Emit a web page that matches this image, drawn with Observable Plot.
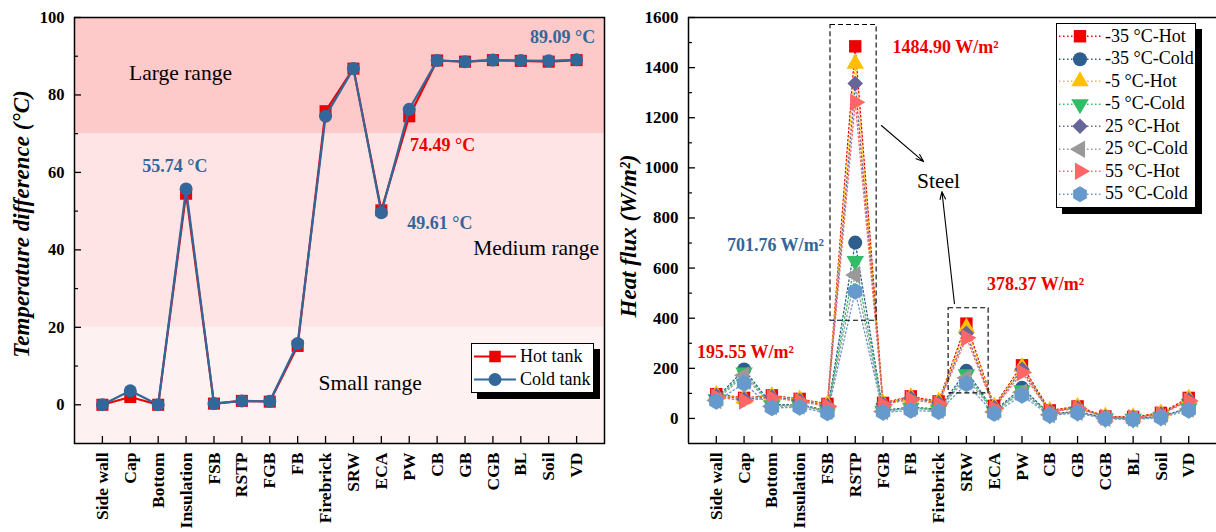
<!DOCTYPE html>
<html><head><meta charset="utf-8">
<script src="https://cdn.jsdelivr.net/npm/d3@7"></script>
<script src="https://cdn.jsdelivr.net/npm/@observablehq/plot@0.6"></script>
<style>
body{margin:0;background:#fff;font-family:"Liberation Serif",serif;}
#wrap{position:relative;width:1216px;height:532px;overflow:hidden;background:#fff;}
#left{position:absolute;left:0;top:0;}
#right{position:absolute;left:608px;top:0;}
.ytitle{position:absolute;font-family:"Liberation Serif",serif;font-style:italic;font-weight:bold;font-size:23px;transform:translate(-50%,-50%) rotate(-90deg);white-space:nowrap;color:#000;}
.legend{position:absolute;background:#fff;border:1px solid #000;box-shadow:6px 6px 0 #000;font-family:"Liberation Serif",serif;font-size:18px;color:#000;}
.row{display:flex;align-items:center;white-space:nowrap;}
.row svg{display:block;}
</style></head>
<body><div id="wrap">
<div id="left"></div><div id="right"></div>
<div class="ytitle" style="left:22px;top:224px;">Temperature difference (°C)</div>
<div class="ytitle" style="left:629px;top:236px;">Heat flux (W/m²)</div>
<div class="legend" id="legL" style="left:471px;top:343px;width:121px;height:47px;padding-top:1px;"></div>
<div class="legend" id="legR" style="left:1056px;top:23px;width:138px;height:182px;padding-top:1px;"></div>
</div>
<script>
// ---------- data ----------
const cats = ["Side wall","Cap","Bottom","Insulation","FSB","RSTP","FGB","FB","Firebrick","SRW","ECA","PW","CB","GB","CGB","BL","Soil","VD"];

// Left: temperature difference (°C)
const hotTank  = [0, 2.0, 0, 54.5, 0.3, 1.0, 0.8, 15.2, 75.8, 86.8, 50.2, 74.49, 88.9, 88.6, 89.0, 88.8, 88.6, 89.0];
const coldTank = [0, 3.6, 0, 55.74, 0.3, 1.0, 0.9, 15.8, 74.5, 86.8, 49.61, 76.3, 88.9, 88.6, 89.0, 88.9, 88.8, 89.09];

// range bands (°C)
const rangeNames = ["Small range","Medium range","Large range"];
const rangeLow  = [-10, 20, 70];
const rangeHigh = [20, 70, 100];

// Right: heat flux (W/m2)
const seriesNames = ["-35 °C-Hot","-35 °C-Cold","-5 °C-Hot","-5 °C-Cold","25 °C-Hot","25 °C-Cold","55 °C-Hot","55 °C-Cold"];
const m35Hot  = [97, 82, 92, 78, 58, 1484.9, 62, 88, 68, 378.37, 50, 212, 32, 48, 8, 6, 22, 82];
const m35Cold = [80, 195.55, 55, 55, 32, 701.76, 32, 45, 38, 190, 30, 122, 18, 28, 2, 0, 8, 42];
const m5Hot   = [94, 80, 89, 75, 55, 1416, 60, 85, 66, 362, 47, 205, 30, 46, 7, 5, 20, 79];
const m5Cold  = [76, 183, 52, 52, 30, 628, 30, 42, 35, 176, 28, 112, 16, 26, 1, -1, 7, 40];
const p25Hot  = [91, 77, 86, 72, 52, 1337, 58, 81, 63, 340, 44, 196, 28, 43, 6, 4, 18, 75];
const p25Cold = [72, 172, 48, 50, 28, 572, 28, 40, 33, 162, 26, 105, 15, 25, 0, -2, 6, 38];
const p55Hot  = [86, 70, 82, 68, 48, 1262, 55, 76, 58, 322, 40, 183, 26, 40, 5, 3, 16, 70];
const p55Cold = [68, 140, 42, 44, 22, 507, 24, 32, 27, 138, 20, 92, 12, 22, -2, -4, 3, 32];

// annotations
const leftRangeText = ["Large range","Medium range","Small range"];
const leftRangeX = [2.8, 15.55, 9.6];
const leftRangeY = [85.6, 40.5, 5.7];
const leftValText = ["55.74 °C","89.09 °C","74.49 °C","49.61 °C"];
const leftValX = [2.6, 16.5, 12.2, 12.1];
const leftValY = [61.6, 94.8, 67.0, 46.9];
const leftValSeries = ["cold","cold","hot","cold"];

const rightValText = ["1484.90 W/m²","701.76 W/m²","195.55 W/m²","378.37 W/m²"];
const rightValX = [8.25, 2.13, 1.05, 11.49];
const rightValY = [1480, 690, 263, 535];
const rightValSeries = ["hot","cold","hot","hot"];
const boxX1 = [4.11, 8.36], boxX2 = [5.77, 9.80], boxY1 = [390, 100], boxY2 = [1570, 440];
const arrowX1 = [5.94, 8.57], arrowY1 = [1169, 458], arrowX2 = [7.46, 8.12], arrowY2 = [1025, 905];
const steelX = [8.0], steelY = [948];

// ---------- styles ----------
const RED = "#ee0000", BLUE = "#336699";
const bandFill = {"Small range":"#fdf1f1","Medium range":"#fee4e4","Large range":"#fdc9c9"};
const sColors = ["#ee0000","#2e5e8e","#ffc000","#33bb66","#666699","#999999","#ff6666","#6699cc"];
const sSymbols = ["square","circle","triangle","triangle","square","triangle","triangle","hexagon"];
const sRotate = [0,0,0,180,45,-90,90,0];
const sR = [7,7,6.5,6.5,6.2,6.5,6.5,7.2];
const font = "'Liberation Serif', serif";
const fmt = d3.format("d");

const idx = cats.map((c,i)=>i);
const rows = vals => vals.map((v,i)=>({i, cat:cats[i], v}));

// ---------- left chart ----------
const bands = rangeNames.map((n,k)=>({n, lo:rangeLow[k], hi:rangeHigh[k]}));
const hotRows = rows(hotTank), coldRows = rows(coldTank);
const lRange = leftRangeText.map((t,k)=>({t, x:leftRangeX[k], y:leftRangeY[k]}));
const lVal = leftValText.map((t,k)=>({t, x:leftValX[k], y:leftValY[k], s:leftValSeries[k]}));

const left = Plot.plot({
  width:608, height:532, marginLeft:74, marginRight:4, marginTop:17, marginBottom:89,
  x:{domain:[-1,18], axis:null}, y:{domain:[-10,100], axis:null},
  style:{fontFamily:font, background:"transparent", color:"#000"},
  marks:[
    Plot.rect(bands, {y1:"lo", y2:"hi", fill:d=>bandFill[d.n]}),
    Plot.line(hotRows, {x:"i", y:"v", stroke:RED, strokeWidth:2.2}),
    Plot.dot(hotRows, {x:"i", y:"v", symbol:"square", fill:RED, r:6.8}),
    Plot.line(coldRows, {x:"i", y:"v", stroke:BLUE, strokeWidth:2.2}),
    Plot.dot(coldRows, {x:"i", y:"v", symbol:"circle", fill:BLUE, r:6.5}),
    Plot.text(lRange, {x:"x", y:"y", text:"t", fontSize:21.5, fill:"#000"}),
    Plot.text(lVal, {x:"x", y:"y", text:"t", fontSize:18, fontWeight:"bold", fill:d=>d.s==="hot"?RED:BLUE}),
    Plot.axisY({ticks:[0,20,40,60,80,100], tickSize:-7, fill:"none", strokeWidth:1.3}),
    Plot.axisY({ticks:[10,30,50,70,90], tickSize:-4, fill:"none", strokeWidth:1.2}),
    Plot.axisY({ticks:[0,20,40,60,80,100], tickFormat:fmt, tickSize:0, tickPadding:10, fontSize:16.5, fontWeight:"bold", label:null}),
    Plot.axisX({ticks:idx, tickSize:-7, fill:"none", strokeWidth:1.3}),
    Plot.axisX({ticks:idx, tickSize:0, tickPadding:9, tickFormat:i=>cats[i], tickRotate:-90, fontSize:17.5, fontWeight:"bold", label:null}),
    Plot.frame({stroke:"#000", strokeWidth:1.5})
  ]
});
document.getElementById("left").appendChild(left);

// ---------- right chart ----------
const allSeries = [m35Hot,m35Cold,m5Hot,m5Cold,p25Hot,p25Cold,p55Hot,p55Cold];
const lineMarks = [], dotMarks = [];
allSeries.forEach((vals,k)=>{
  const r = rows(vals);
  lineMarks.push(Plot.line(r, {x:"i", y:"v", stroke:sColors[k], strokeWidth:1.3, strokeDasharray:"1.5,2.5"}));
  dotMarks.push(Plot.dot(r, {x:"i", y:"v", symbol:sSymbols[k], rotate:sRotate[k], fill:sColors[k], r:sR[k]}));
});
const rVal = rightValText.map((t,k)=>({t, x:rightValX[k], y:rightValY[k], s:rightValSeries[k]}));
const boxes = boxX1.map((x,k)=>({x1:x, x2:boxX2[k], y1:boxY1[k], y2:boxY2[k]}));
const arrows = arrowX1.map((x,k)=>({x1:x, y1:arrowY1[k], x2:arrowX2[k], y2:arrowY2[k]}));
const steel = steelX.map((x,k)=>({x, y:steelY[k], t:"Steel"}));

const right = Plot.plot({
  width:608, height:532, marginLeft:80, marginRight:0, marginTop:17, marginBottom:89,
  x:{domain:[-1,18], axis:null}, y:{domain:[-100,1600], axis:null},
  style:{fontFamily:font, background:"transparent", color:"#000", overflow:"visible"},
  marks:[
    ...lineMarks,
    ...dotMarks,
    Plot.rect(boxes, {x1:"x1", x2:"x2", y1:"y1", y2:"y2", fill:"none", stroke:"#000", strokeWidth:1.1, strokeDasharray:"5,3"}),
    Plot.arrow(arrows, {x1:"x1", y1:"y1", x2:"x2", y2:"y2", stroke:"#000", strokeWidth:1.1, headLength:11, headAngle:40}),
    Plot.text(steel, {x:"x", y:"y", text:"t", fontSize:21.5, fill:"#000"}),
    Plot.text(rVal, {x:"x", y:"y", text:"t", fontSize:18, fontWeight:"bold", fill:d=>d.s==="hot"?RED:BLUE}),
    Plot.axisY({ticks:[0,200,400,600,800,1000,1200,1400,1600], tickSize:-7, fill:"none", strokeWidth:1.3}),
    Plot.axisY({ticks:[100,300,500,700,900,1100,1300,1500], tickSize:-4, fill:"none", strokeWidth:1.2}),
    Plot.axisY({ticks:[0,200,400,600,800,1000,1200,1400,1600], tickFormat:fmt, tickSize:0, tickPadding:10, fontSize:17, fontWeight:"bold", label:null}),
    Plot.axisX({ticks:idx, tickSize:-7, fill:"none", strokeWidth:1.3}),
    Plot.axisX({ticks:idx, tickSize:0, tickPadding:9, tickFormat:i=>cats[i], tickRotate:-90, fontSize:17.5, fontWeight:"bold", label:null}),
    Plot.ruleY([1600,-100], {stroke:"#000", strokeWidth:1.5}),
    Plot.ruleX([-1], {stroke:"#000", strokeWidth:1.5})
  ]
});
document.getElementById("right").appendChild(right);

// ---------- legends ----------
function hexPath(r){const p=[];for(let k=0;k<6;k++){const a=Math.PI/3*k+Math.PI/6;p.push([r*Math.cos(a),r*Math.sin(a)]);}return "M"+p.map(q=>q.join(",")).join("L")+"Z";}
function markerPath(sym, r){
  if(sym==="hexagon") return hexPath(r*1.1);
  const m = {square:d3.symbolSquare, circle:d3.symbolCircle, triangle:d3.symbolTriangle}[sym];
  return d3.symbol(m, Math.PI*r*r)();
}
function addRow(container, color, sym, rot, r, label, dashed, lineW, h){
  const row = d3.select(container).append("div").attr("class","row").style("height", h+"px");
  const svg = row.append("svg").attr("width",48).attr("height",h);
  svg.append("line").attr("x1",2).attr("x2",44).attr("y1",h/2).attr("y2",h/2)
     .attr("stroke",color).attr("stroke-width",lineW).attr("stroke-dasharray",dashed?"1.5,2.5":null);
  svg.append("path").attr("d",markerPath(sym,r)).attr("fill",color)
     .attr("transform",`translate(23,${h/2}) rotate(${rot})`);
  row.append("span").text(label);
}
const legL = document.getElementById("legL");
addRow(legL, RED, "square", 0, 6.5, "Hot tank", false, 2.2, 23);
addRow(legL, BLUE, "circle", 0, 6.5, "Cold tank", false, 2.2, 23);
const legR = document.getElementById("legR");
seriesNames.forEach((n,k)=>addRow(legR, sColors[k], sSymbols[k], sRotate[k], sR[k], n, true, 1.4, 22.5));
</script>
</body></html>
